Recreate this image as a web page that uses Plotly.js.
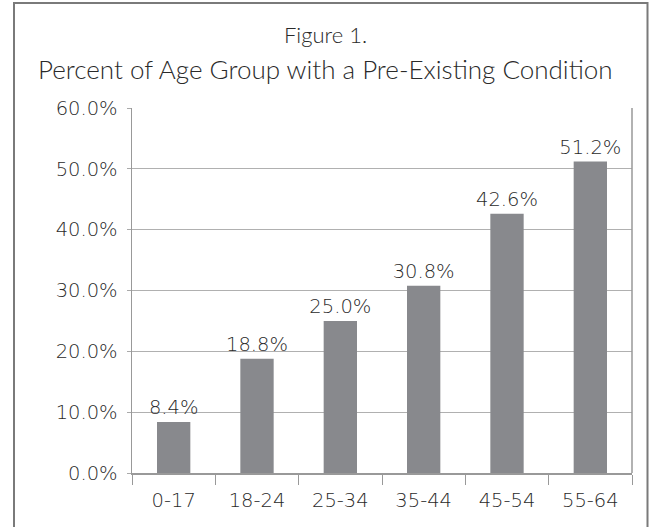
<!DOCTYPE html>
<html>
<head>
<meta charset="utf-8">
<script src="https://cdn.plot.ly/plotly-3.0.1.min.js"></script>
<style>html,body{margin:0;padding:0;background:#fff;}#chart{width:650px;height:527px;}</style>
</head>
<body>
<div id="chart"></div>
<script>
const categories = ["0-17", "18-24", "25-34", "35-44", "45-54", "55-64"];
const percentValues = [8.4, 18.8, 25.0, 30.8, 42.6, 51.2];
const yTickValues = [0, 10, 20, 30, 40, 50, 60];

const TITLE_FONT = "Lato, 'Open Sans', sans-serif";
const NUM_FONT = "'DejaVu Sans', sans-serif";
const TXT = "#2a2a2a";

const trace = {
  type: "bar",
  x: categories,
  y: percentValues,
  width: 0.4,
  marker: {color: "#88898d"},
  text: percentValues.map(v => v.toFixed(1) + "%"),
  textposition: "outside",
  constraintext: "none",
  cliponaxis: false,
  textfont: {family: NUM_FONT, size: 19.5, color: TXT, weight: 200},
  hoverinfo: "none"
};

const layout = {
  width: 650,
  height: 527,
  margin: {l: 132, r: 18, t: 108, b: 54},
  paper_bgcolor: "#ffffff",
  plot_bgcolor: "#ffffff",
  showlegend: false,
  font: {family: NUM_FONT, color: TXT},
  xaxis: {
    type: "category",
    tickson: "boundaries",
    ticks: "outside",
    ticklen: 10,
    tickcolor: "#999",
    showline: true,
    linecolor: "#999",
    linewidth: 1.5,
    showgrid: false,
    ticklabelstandoff: 9,
    tickfont: {family: NUM_FONT, size: 19.5, color: TXT, weight: 200}
  },
  yaxis: {
    range: [0, 60],
    tickvals: yTickValues,
    ticktext: yTickValues.map(v => v.toFixed(1) + "%"),
    ticks: "outside",
    ticklen: 4,
    tickcolor: "#aaa",
    showline: true,
    linecolor: "#999",
    linewidth: 1.5,
    showgrid: true,
    gridcolor: "#b0b0b0",
    gridwidth: 1,
    zeroline: false,
    ticklabelstandoff: 5,
    tickfont: {family: NUM_FONT, size: 19.5, color: TXT, weight: 200}
  },
  shapes: [
    {type: "line", xref: "paper", yref: "paper", x0: 1, x1: 1, y0: 0, y1: 1,
     line: {color: "#999", width: 1.5}},
    {type: "path", xref: "paper", yref: "paper",
     path: "M -0.236 -0.15 L -0.236 1.2877 L 1.031 1.2877 L 1.031 -0.15",
     line: {color: "#7a7a7a", width: 2}}
  ],
  annotations: [
    {xref: "paper", yref: "paper", x: 0.386, y: 1.158, xanchor: "center", yanchor: "bottom",
     text: "Figure 1.", showarrow: false, font: {family: TITLE_FONT, size: 22, color: TXT, weight: 300}},
    {xref: "paper", yref: "paper", x: 0.386, y: 1.058, xanchor: "center", yanchor: "bottom",
     text: "Percent of Age Group with a Pre-Exis\u200Cting Condi\u200Ction", showarrow: false,
     font: {family: TITLE_FONT, size: 26, color: TXT, weight: 300}}
  ]
};

Plotly.newPlot("chart", [trace], layout, {staticPlot: true, displayModeBar: false});
</script>
</body>
</html>
